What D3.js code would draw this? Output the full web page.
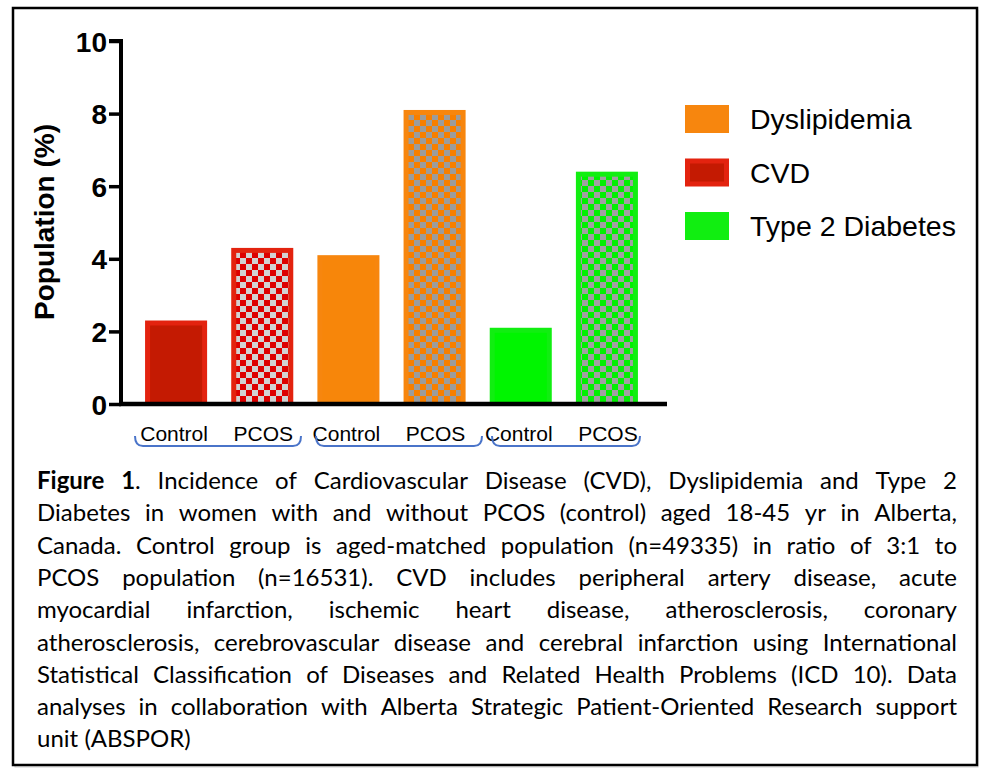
<!DOCTYPE html>
<html><head><meta charset="utf-8">
<script src="https://cdn.jsdelivr.net/npm/d3@7"></script>
<style>body{margin:0;background:#fff}svg{display:block}</style>
</head><body>
<svg id="c" width="990" height="779"></svg>
<script>
const categories = ["CVD Control","CVD PCOS","Dyslipidemia Control","Dyslipidemia PCOS","T2D Control","T2D PCOS"];
const groups = ["CVD","CVD","Dyslipidemia","Dyslipidemia","Type 2 Diabetes","Type 2 Diabetes"];
const cohorts = ["Control","PCOS","Control","PCOS","Control","PCOS"];
const values = [2.3, 4.3, 4.1, 8.1, 2.1, 6.4];
const yTicks = [0, 2, 4, 6, 8, 10];
const legendLabels = ["Dyslipidemia", "CVD", "Type 2 Diabetes"];
const captionLines = [
  "**Figure 1**. Incidence of Cardiovascular Disease (CVD), Dyslipidemia and Type 2",
  "Diabetes in women with and without PCOS (control) aged 18-45 yr in Alberta,",
  "Canada. Control group is aged-matched population (n=49335) in ratio of 3:1 to",
  "PCOS population (n=16531). CVD includes peripheral artery disease, acute",
  "myocardial infarction, ischemic heart disease, atherosclerosis, coronary",
  "atherosclerosis, cerebrovascular disease and cerebral infarction using International",
  "Statistical Classification of Diseases and Related Health Problems (ICD 10). Data",
  "analyses in collaboration with Alberta Strategic Patient-Oriented Research support",
  "unit (ABSPOR)"
];

const colors = {
  "CVD": {border:"#e3230f", fill:"#c41a02", check:"#dd0000", alt:"#d2d2d2"},
  "Dyslipidemia": {border:"#f7860e", fill:"#f7860a", check:"#f77f00", alt:"#9c9c9c"},
  "Type 2 Diabetes": {border:"#11ee11", fill:"#00f500", check:"#00f000", alt:"#a0a0a0"}
};

const svg = d3.select("#c");
const defs = svg.append("defs");
Object.entries(colors).forEach(([k,c],i)=>{
  const p = defs.append("pattern").attr("id","pat"+i).attr("patternUnits","userSpaceOnUse")
    .attr("width",12).attr("height",12);
  p.append("rect").attr("width",12).attr("height",12).attr("fill",c.alt);
  p.append("rect").attr("width",6).attr("height",6).attr("fill",c.check);
  p.append("rect").attr("x",6).attr("y",6).attr("width",6).attr("height",6).attr("fill",c.check);
  c.pat = "url(#pat"+i+")";
});

// outer frame
svg.append("rect").attr("x",15).attr("y",10).attr("width",963).attr("height",757)
  .attr("fill","none").attr("stroke","#cfcfcf").attr("stroke-width",1);
svg.append("rect").attr("x",13).attr("y",8).attr("width",964).attr("height",757)
  .attr("fill","#fff").attr("stroke","#000").attr("stroke-width",2.5);

const y = d3.scaleLinear().domain([0,10]).range([404,41]);
const x = d3.scaleBand().domain(categories).range([133,650]).paddingInner(0.28).paddingOuter(0.14);

// bars
const bw = 5;
categories.forEach((cat,i)=>{
  const c = colors[groups[i]];
  const x0 = x(cat), w = x.bandwidth(), y0 = y(values[i]), h = y(0)-y(values[i]);
  svg.append("rect").attr("x",x0).attr("y",y0).attr("width",w).attr("height",h).attr("fill",c.border);
  svg.append("rect").attr("x",x0+bw).attr("y",y0+bw).attr("width",w-2*bw).attr("height",Math.max(0,h-bw))
    .attr("fill", cohorts[i]==="PCOS" ? c.pat : c.fill);
});

// axes
const yAxis = d3.axisLeft(y).tickValues(yTicks).tickSize(12).tickFormat(d3.format("d"));
const gy = svg.append("g").attr("transform","translate(121,0)").call(yAxis);
gy.select(".domain").attr("stroke","#000").attr("stroke-width",4).attr("d","M-12,41H0V404");
gy.selectAll(".tick line").attr("stroke","#000").attr("stroke-width",3.5);
gy.selectAll(".tick text").attr("font-family","Liberation Sans, Arial, sans-serif")
  .attr("font-weight","bold").attr("font-size",28).attr("fill","#000").attr("x",-14).attr("dy","0.36em");

svg.append("line").attr("x1",119).attr("x2",667).attr("y1",404).attr("y2",404)
  .attr("stroke","#000").attr("stroke-width",4.5);

svg.append("text").attr("transform","translate(54,222) rotate(-90)")
  .attr("text-anchor","middle").attr("font-family","Liberation Sans, Arial, sans-serif")
  .attr("font-weight","bold").attr("font-size",28).text("Population (%)");

// x labels
categories.forEach((cat,i)=>{
  svg.append("text").attr("x",x(cat)+x.bandwidth()/2+ (cohorts[i]==="PCOS"?1:-2)).attr("y",441)
    .attr("text-anchor","middle").attr("font-family","Liberation Sans, Arial, sans-serif")
    .attr("font-size",21).attr("fill","#000").text(cohorts[i]);
});

// brackets
const brackets = [[135,301],[316,482],[492,640]];
brackets.forEach(([a,b])=>{
  svg.append("path").attr("d",`M${a},436 Q${a},446 ${a+8},446 H${b-8} Q${b},446 ${b},436`)
    .attr("fill","none").attr("stroke","#4a74c9").attr("stroke-width",2);
});

// legend
const legendColor = {"Dyslipidemia":colors["Dyslipidemia"],"CVD":colors["CVD"],"Type 2 Diabetes":colors["Type 2 Diabetes"]};
legendLabels.forEach((lab,i)=>{
  const c = legendColor[lab];
  const ly = 105 + i*53.5;
  svg.append("rect").attr("x",685).attr("y",ly).attr("width",44).attr("height",28).attr("fill",c.border);
  if(lab==="CVD") svg.append("rect").attr("x",690).attr("y",ly+5).attr("width",34).attr("height",18).attr("fill",c.fill);
  svg.append("text").attr("x",750).attr("y",ly+24).attr("font-family","Liberation Sans, Arial, sans-serif")
    .attr("font-size",28.5).attr("fill","#000").text(lab);
});

// caption, justified
const capFont = "Lato, 'Open Sans', sans-serif";
const left = 37, right = 957;
let fs = 24;
const meas = svg.append("text").attr("font-family",capFont).attr("font-size",fs).attr("x",-1000).attr("y",-1000);
meas.text(captionLines[5]);
const natural = meas.node().getComputedTextLength();
if (natural > (right-left)) fs = fs * (right-left-4) / natural;
meas.remove();

let bold = false;
captionLines.forEach((line,li)=>{
  const base = 489 + li*32.3;
  const words = line.split(" ");
  const nodes = words.map(w=>{
    const t = svg.append("text").attr("font-family",capFont).attr("font-size",fs).attr("y",base).attr("fill","#000");
    w.split("**").forEach((p,j)=>{
      if(j>0) bold = !bold;
      if(p.length) t.append("tspan").attr("font-weight",bold?"bold":"normal").text(p);
    });
    return t;
  });
  const widths = nodes.map(n=>n.node().getComputedTextLength());
  const total = d3.sum(widths);
  const last = li === captionLines.length-1;
  const gap = last ? fs*0.26 : (right-left-total)/(words.length-1);
  let cx = left;
  nodes.forEach((n,j)=>{ n.attr("x",cx); cx += widths[j] + gap; });
});
</script>
</body></html>
